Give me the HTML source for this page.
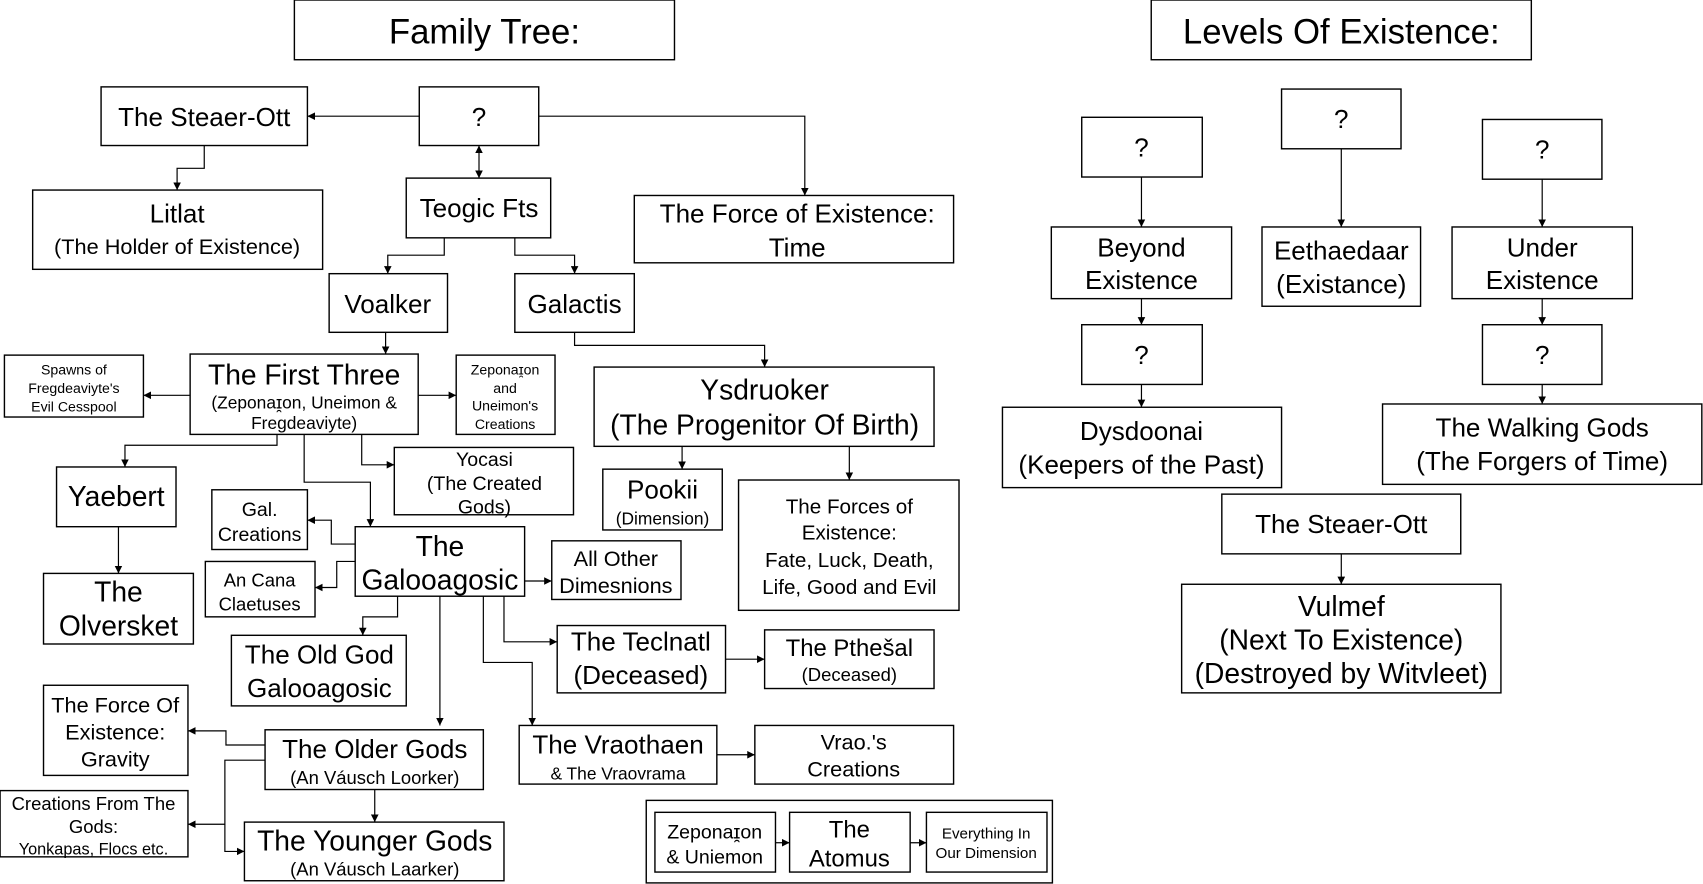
<!DOCTYPE html>
<html><head><meta charset="utf-8"><style>
html,body{margin:0;padding:0;background:#fff;}
svg{display:block;}
text{font-family:"Liberation Sans",sans-serif;fill:#000;text-anchor:middle;}
rect{fill:#fff;stroke:#000;stroke-width:1.3;}
path{fill:none;stroke:#000;stroke-width:1.1;}
</style></head><body>
<svg width="1703" height="884" viewBox="0 0 1568 814" xmlns="http://www.w3.org/2000/svg">
<defs>
<marker id="a" viewBox="0 0 10 10" refX="10" refY="5" markerWidth="7" markerHeight="7" orient="auto-start-reverse" markerUnits="userSpaceOnUse"><path d="M0,0 L10,5 L0,10 z" style="fill:#000;stroke:none"/></marker>
</defs>

<rect x="595" y="737" width="374" height="76" style="fill:none"/>

<!-- connectors -->
<g marker-end="url(#a)">
<path d="M386,107 H283"/>
<path d="M496,107 H741 V180"/>
<path d="M441,134 V164" marker-start="url(#a)"/>
<path d="M188,134 V155 H163 V175"/>
<path d="M409,219 V235 H357 V252"/>
<path d="M474,219 V235 H529 V252"/>
<path d="M355,306 V326"/>
<path d="M529,306 V318 H704 V338"/>
<path d="M175,364 H132"/>
<path d="M385,364 H420"/>
<path d="M255,400 V410 H115 V430"/>
<path d="M333,400 V428 H363"/>
<path d="M280,400 V444 H341 V485"/>
<path d="M327,501 H305 V479 H283"/>
<path d="M327,517 H310 V541 H290"/>
<path d="M483,535 H508"/>
<path d="M366,549 V568 H334 V585"/>
<path d="M405,549 V668"/>
<path d="M464,549 V591 H513"/>
<path d="M445,549 V610 H490 V668"/>
<path d="M668,607 H704"/>
<path d="M109,485 V528"/>
<path d="M244,686 H208 V673 H173"/>
<path d="M244,700 H207 V759 H173"/>
<path d="M207,759 V784 H225"/>
<path d="M345,727 V757"/>
<path d="M660,695 H695"/>
<path d="M628,411 V432"/>
<path d="M782,411 V442"/>
<path d="M714,776 H727"/>
<path d="M838,776 H853"/>
<path d="M1051,163 V209"/>
<path d="M1235,137 V209"/>
<path d="M1420,165 V209"/>
<path d="M1051,275 V299"/>
<path d="M1420,275 V299"/>
<path d="M1051,354 V375"/>
<path d="M1420,354 V372"/>
<path d="M1235,510 V538"/>
</g>

<!-- boxes -->
<rect x="271" y="0" width="350" height="55"/><text x="446" y="40" font-size="32">Family Tree:</text>
<rect x="1060" y="0" width="350" height="55"/><text x="1235" y="40" font-size="32">Levels Of Existence:</text>

<rect x="386" y="80" width="110" height="54"/><text x="441" y="116" font-size="24">?</text>
<rect x="93" y="80" width="190" height="54"/><text x="188" y="116" font-size="24">The Steaer-Ott</text>
<rect x="30" y="175" width="267" height="73"/><text x="163" y="205" font-size="24">Litlat</text><text x="163" y="234" font-size="20">(The Holder of Existence)</text>
<rect x="374" y="164" width="133" height="55"/><text x="441" y="200" font-size="24">Teogic Fts</text>
<rect x="584" y="180" width="294" height="62"/><text x="734" y="205" font-size="24">The Force of Existence:</text><text x="734" y="236" font-size="24">Time</text>
<rect x="303" y="252" width="109" height="54"/><text x="357" y="288" font-size="24">Voalker</text>
<rect x="474" y="252" width="110" height="54"/><text x="529" y="288" font-size="24">Galactis</text>

<rect x="4" y="327" width="128" height="57"/><text x="68" y="345" font-size="13">Spawns of</text><text x="68" y="362" font-size="13">Fregdeaviyte's</text><text x="68" y="379" font-size="13">Evil Cesspool</text>
<rect x="175" y="326" width="210" height="74"/><text x="280" y="354" font-size="26">The First Three</text><text x="280" y="376" font-size="16">(Zeponaɪ̯on, Uneimon &amp;</text><text x="280" y="395" font-size="16">Fregdeaviyte)</text>
<rect x="420" y="327" width="91" height="73"/><text x="465" y="345" font-size="13">Zeponaɪ̯on</text><text x="465" y="362" font-size="13">and</text><text x="465" y="378" font-size="13">Uneimon's</text><text x="465" y="395" font-size="13">Creations</text>
<rect x="363" y="412" width="165" height="62"/><text x="446" y="429" font-size="18">Yocasi</text><text x="446" y="451" font-size="18">(The Created</text><text x="446" y="473" font-size="18">Gods)</text>
<rect x="52" y="430" width="110" height="55"/><text x="107" y="466" font-size="26">Yaebert</text>
<rect x="195" y="451" width="88" height="55"/><text x="239" y="475" font-size="18">Gal.</text><text x="239" y="498" font-size="18">Creations</text>
<rect x="327" y="485" width="156" height="64"/><text x="405" y="512" font-size="26">The</text><text x="405" y="543" font-size="26">Galooagosic</text>
<rect x="508" y="498" width="119" height="54"/><text x="567" y="521" font-size="20">All Other</text><text x="567" y="546" font-size="20">Dimesnions</text>
<rect x="189" y="517" width="101" height="51"/><text x="239" y="540" font-size="17">An Cana</text><text x="239" y="562" font-size="17">Claetuses</text>
<rect x="40" y="528" width="138" height="65"/><text x="109" y="554" font-size="26">The</text><text x="109" y="585" font-size="26">Olversket</text>
<rect x="213" y="585" width="161" height="65"/><text x="294" y="611" font-size="24">The Old God</text><text x="294" y="642" font-size="24">Galooagosic</text>
<rect x="513" y="576" width="155" height="62"/><text x="590" y="599" font-size="24">The Teclnatl</text><text x="590" y="630" font-size="24">(Deceased)</text>
<rect x="704" y="580" width="156" height="54"/><text x="782" y="604" font-size="22">The Pthešal</text><text x="782" y="627" font-size="17">(Deceased)</text>
<rect x="40" y="631" width="133" height="83"/><text x="106" y="656" font-size="20">The Force Of</text><text x="106" y="681" font-size="20">Existence:</text><text x="106" y="706" font-size="20">Gravity</text>
<rect x="244" y="672" width="201" height="55"/><text x="345" y="698" font-size="24">The Older Gods</text><text x="345" y="722" font-size="17">(An Váusch Loorker)</text>
<rect x="478" y="668" width="182" height="54"/><text x="569" y="694" font-size="24">The Vraothaen</text><text x="569" y="718" font-size="16">&amp; The Vraovrama</text>
<rect x="695" y="668" width="183" height="54"/><text x="786" y="690" font-size="20">Vrao.'s</text><text x="786" y="715" font-size="20">Creations</text>
<rect x="0" y="728" width="173" height="61"/><text x="86" y="746" font-size="17">Creations From The</text><text x="86" y="767" font-size="17">Gods:</text><text x="86" y="787" font-size="15">Yonkapas, Flocs etc.</text>
<rect x="225" y="757" width="239" height="54"/><text x="345" y="783" font-size="26">The Younger Gods</text><text x="345" y="806" font-size="17">(An Váusch Laarker)</text>

<rect x="603" y="748" width="111" height="55"/><text x="658" y="772" font-size="18">Zeponaɪ̯on</text><text x="658" y="795" font-size="18">&amp; Uniemon</text>
<rect x="727" y="748" width="111" height="55"/><text x="782" y="771" font-size="22">The</text><text x="782" y="798" font-size="22">Atomus</text>
<rect x="853" y="748" width="111" height="55"/><text x="908" y="772" font-size="14">Everything In</text><text x="908" y="790" font-size="14">Our Dimension</text>

<rect x="547" y="338" width="313" height="73"/><text x="704" y="368" font-size="26">Ysdruoker</text><text x="704" y="400" font-size="26">(The Progenitor Of Birth)</text>
<rect x="555" y="432" width="110" height="56"/><text x="610" y="459" font-size="24">Pookii</text><text x="610" y="483" font-size="16">(Dimension)</text>
<rect x="680" y="442" width="203" height="120"/><text x="782" y="473" font-size="19">The Forces of</text><text x="782" y="497" font-size="19">Existence:</text><text x="782" y="522" font-size="19">Fate, Luck, Death,</text><text x="782" y="547" font-size="19">Life, Good and Evil</text>

<!-- right -->
<rect x="996" y="108" width="111" height="55"/><text x="1051" y="144" font-size="24">?</text>
<rect x="1180" y="82" width="110" height="55"/><text x="1235" y="118" font-size="24">?</text>
<rect x="1365" y="110" width="110" height="55"/><text x="1420" y="146" font-size="24">?</text>
<rect x="968" y="209" width="166" height="66"/><text x="1051" y="236" font-size="24">Beyond</text><text x="1051" y="266" font-size="24">Existence</text>
<rect x="1162" y="209" width="146" height="73"/><text x="1235" y="239" font-size="24">Eethaedaar</text><text x="1235" y="270" font-size="24">(Existance)</text>
<rect x="1337" y="209" width="166" height="66"/><text x="1420" y="236" font-size="24">Under</text><text x="1420" y="266" font-size="24">Existence</text>
<rect x="996" y="299" width="111" height="55"/><text x="1051" y="335" font-size="24">?</text>
<rect x="1365" y="299" width="110" height="55"/><text x="1420" y="335" font-size="24">?</text>
<rect x="923" y="375" width="257" height="74"/><text x="1051" y="405" font-size="24">Dysdoonai</text><text x="1051" y="436" font-size="24">(Keepers of the Past)</text>
<rect x="1273" y="372" width="294" height="74"/><text x="1420" y="402" font-size="24">The Walking Gods</text><text x="1420" y="433" font-size="24">(The Forgers of Time)</text>
<rect x="1125" y="455" width="220" height="55"/><text x="1235" y="491" font-size="24">The Steaer-Ott</text>
<rect x="1088" y="538" width="294" height="100"/><text x="1235" y="567" font-size="26">Vulmef</text><text x="1235" y="598" font-size="26">(Next To Existence)</text><text x="1235" y="629" font-size="26">(Destroyed by Witvleet)</text>
</svg>
</body></html>
